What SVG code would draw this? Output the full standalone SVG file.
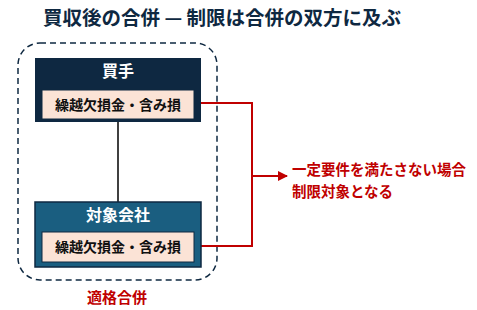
<svg xmlns="http://www.w3.org/2000/svg" width="477" height="310" viewBox="0 0 477 310">
<defs>
<style>
text{font-family:"Noto Sans CJK JP","Noto Sans",sans-serif;font-weight:bold}
.title{font-size:19.5px;fill:#0E2841}
.hd{font-size:16px;fill:#fff;text-anchor:middle}
.inner{fill:#FBE3D6;stroke:#0E2841;stroke-width:1}
.it{font-size:14px;fill:#111;text-anchor:middle}
.red{fill:#C00000}
</style>
<marker id="arr" viewBox="0 0 10 10" refX="9" refY="5" markerWidth="5" markerHeight="5" orient="auto">
<path d="M0,0 L10,5 L0,10 z" fill="#C00000"/>
</marker>
</defs>
<rect width="477" height="310" fill="#fff"/>
<text class="title" x="43" y="25">買収後の合併 — 制限は合併の双方に及ぶ</text>
<rect id="frame" x="18" y="43" width="199" height="237" rx="22" fill="none" stroke="#0E2841" stroke-width="1.5" stroke-dasharray="6,4"/>
<g id="connectors">
<line x1="118" y1="122" x2="118" y2="202" stroke="#000" stroke-width="1.5"/>
<polyline points="194,103 252,103 252,246 194,246" fill="none" stroke="#C00000" stroke-width="2"/>
<line x1="252" y1="176" x2="287" y2="176" stroke="#C00000" stroke-width="2" marker-end="url(#arr)"/>
</g>
<g id="buyer">
<rect x="35" y="58" width="166" height="64" fill="#0E2841"/>
<text class="hd" x="118" y="77">買手</text>
<rect class="inner" x="42" y="90" width="152" height="29"/>
<text class="it" x="118" y="110">繰越欠損金・含み損</text>
</g>
<g id="target">
<rect x="35" y="202" width="166" height="65" fill="#1A5E80" stroke="#0E2841" stroke-width="1.5"/>
<text class="hd" x="118" y="221">対象会社</text>
<rect class="inner" x="42" y="232" width="152" height="30"/>
<text class="it" x="118" y="252">繰越欠損金・含み損</text>
</g>
<text id="qm" class="red" x="117" y="303" font-size="15" text-anchor="middle">適格合併</text>
<g id="note">
<text class="red" x="292" y="175" font-size="14.5">一定要件を満たさない場合</text>
<text class="red" x="292" y="197" font-size="14.5">制限対象となる</text>
</g>
</svg>
